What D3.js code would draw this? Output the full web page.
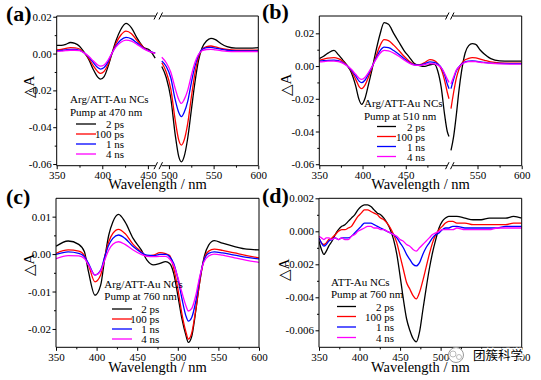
<!DOCTYPE html>
<html><head><meta charset="utf-8">
<script src="https://cdn.jsdelivr.net/npm/d3@7"></script>
<style>
body{margin:0;background:#fff}
svg{display:block}
text{font-family:"Liberation Serif","Times New Roman",serif;fill:#000}
</style>
</head><body>
<svg id="c" width="541" height="380"></svg>
<script>
// ---------------- DATA ----------------
const seriesNames = ["2 ps", "100 ps", "1 ns", "4 ns"];
const seriesColors = ["#000000", "#ff0000", "#0000ff", "#ff00ff"];

// (a) Arg/ATT-Au NCs, pump 470 nm (break 460-490)
const aWl = [350,355,360,365,370,375,380,385,390,395,398,402,406,410,415,420,426,432,438,445,452,458,
             492,497,502,507,511,514,517,521,525,529,533,537,542,547,552,558,565,575,590,600];
const a2ps = [.0045,.0045,.005,.006,.0055,.004,.0008,-.003,-.0085,-.0128,-.0139,-.0125,-.0075,-.001,.007,.0128,.0164,.014,.0085,.0035,.0018,-.0025,
              -.007,-.013,-.024,-.044,-.056,-.0588,-.056,-.046,-.031,-.016,-.004,.003,.0068,.0083,.0076,.0055,.0038,.003,.003,.0032];
const a100ps = [.002,.0022,.0028,.0032,.0031,.0025,.0005,-.0025,-.0065,-.0098,-.0108,-.0097,-.0062,-.0008,.0055,.0098,.0122,.0108,.0072,.0035,.0012,.0002,
              -.005,-.010,-.019,-.036,-.047,-.0497,-.047,-.038,-.024,-.011,-.002,.0022,.0038,.0041,.0036,.0028,.0022,.0018,.0018,.0018];
const a1ns = [.0015,.0017,.002,.0022,.0022,.0018,.0004,-.0018,-.0048,-.0076,-.0084,-.0076,-.0048,-.0005,.0042,.0072,.0088,.008,.0058,.003,.0012,.0002,
              -.004,-.007,-.013,-.025,-.032,-.0343,-.032,-.026,-.016,-.007,-.001,.0022,.0032,.0034,.003,.0024,.0018,.0015,.0015,.0015];
const a4ns = [.0012,.0013,.0016,.0018,.0018,.0016,.0004,-.0014,-.0039,-.0062,-.0068,-.0062,-.0038,-.0003,.0036,.006,.0073,.0067,.005,.0027,.001,.0001,
              -.002,-.005,-.010,-.019,-.025,-.0271,-.025,-.020,-.012,-.005,-.0005,.0015,.0022,.0023,.002,.0016,.0012,.001,.001,.001];

// (b) Arg/ATT-Au NCs, pump 510 nm (break 500-520)
const bWl = [350,355,360,367,372,377,382,387,392,396,399,403,407,411,415,420,425,430,436,442,448,454,460,466,472,478,483,487,491,495,498,500,
             520,523,526,529,532,536,540,544,548,553,558,565,575,588,600];
const b2ps = [.0045,.006,.0079,.0096,.007,.0038,.0005,-.004,-.012,-.0205,-.0234,-.0195,-.011,-.002,.008,.019,.0265,.0255,.020,.0147,.0095,.0055,.0015,.0003,-.0002,.0008,.0012,-.003,-.013,-.030,-.040,-.043,
              -.0515,-.043,-.030,-.015,-.003,.008,.0125,.0137,.0133,.0098,.0072,.0045,.0032,.003,.003];
const b100ps = [.0035,.0042,.0048,.0051,.0045,.003,.0005,-.003,-.008,-.0125,-.0138,-.0115,-.0065,-.001,.005,.0122,.0161,.0155,.0128,.0095,.006,.003,.001,.0008,.0022,.0039,.0033,.0015,-.002,-.009,-.016,-.020,
              -.026,-.016,-.0075,-.002,.0015,.0038,.0047,.0051,.005,.0042,.0035,.0026,.002,.0018,.0018];
const b1ns = [.003,.0033,.0035,.0036,.0033,.0022,.0003,-.0025,-.006,-.0092,-.0101,-.0085,-.0048,-.0005,.0042,.0092,.0116,.0112,.0095,.0072,.0046,.0022,.0008,.0006,.0015,.0025,.0022,.0012,-.001,-.0055,-.011,-.0138,
              -.0138,-.008,-.003,-.0005,.0012,.0025,.003,.0031,.003,.0026,.0022,.0018,.0016,.0015,.0015];
const b4ns = [.0025,.0027,.003,.003,.0028,.0018,.0002,-.002,-.005,-.0074,-.0081,-.0068,-.0038,-.0003,.0036,.0077,.0096,.0093,.0079,.006,.0038,.0018,.0006,.0004,.001,.0015,.0013,.0006,-.001,-.0045,-.008,-.010,
              -.011,-.0065,-.0025,-.0005,.001,.0022,.0027,.0028,.0027,.0023,.002,.0016,.0013,.0012,.0012];

// (c) Arg/ATT-Au NCs, pump 760 nm
const cWl = [350,365,378,385,390,398,405,410,415,420,427,435,445,455,462,470,478,485,490,495,500,505,510,513,517,522,527,532,538,545,555,570,585,600];
const c2ps = [.0021,.0035,.0026,.0006,-.0047,-.011,-.0083,-.0012,.0051,.0086,.0106,.0086,.0042,.0011,-.0016,-.0029,-.0025,-.002,-.0025,-.0052,-.011,-.0172,-.0217,-.0236,-.0221,-.0154,-.0074,-.0012,.0024,.0036,.0029,.002,.0013,.0011];
const c100ps = [.0002,.0011,.0008,-.0004,-.0029,-.0074,-.0056,-.0007,.0033,.0055,.0066,.0055,.0026,.0006,-.0005,-.0003,.0004,.0001,-.0004,-.0038,-.0092,-.0159,-.0208,-.0227,-.0212,-.015,-.0074,-.0016,.0008,.0013,.001,.0003,-.0004,-.001];
const c1ns = [-.0001,.0006,.0002,-.0007,-.0025,-.0056,-.0043,-.0007,.0024,.0042,.0051,.0042,.002,.0004,-.0003,-.0004,-.0001,-.0001,-.0007,-.0025,-.0065,-.0118,-.0165,-.0179,-.017,-.0128,-.0065,-.0018,.0002,.0006,.0003,-.0003,-.0009,-.0013];
const c4ns = [-.0012,-.0004,-.0005,-.0012,-.0029,-.0056,-.0045,-.0016,.0011,.0026,.0033,.0026,.0011,-.0001,-.0006,-.0007,-.0006,-.0006,-.0013,-.003,-.0062,-.0102,-.0138,-.0152,-.0146,-.0112,-.006,-.0022,-.0005,0,-.0003,-.001,-.0017,-.0022];

// (d) ATT-Au NCs, pump 760 nm
const dWl = [350,353,356,359,362,366,370,374,378,382,386,390,394,398,402,406,410,414,418,422,426,430,434,438,442,446,450,454,458,462,466,470,474,478,482,486,490,494,498,502,506,510,515,520,530,540,550,560,570,580,590,600];
const d2ps = [-.0006,-.0011,-.0014,-.0012,-.0009,-.0006,-.0002,.0001,.0003,.0004,.0006,.0008,.001,.0013,.0015,.0016,.0016,.0015,.0013,.0011,.001,.0008,.0005,.0001,-.0005,-.0014,-.0027,-.0041,-.0053,-.006,-.0065,-.0067,-.0061,-.0048,-.0035,-.0023,-.0013,-.0005,.0002,.0006,.0008,.0009,.0009,.0009,.0008,.0007,.0007,.0008,.0008,.0008,.0009,.0008];
const d100ps = [-.0004,-.0007,-.0008,-.0007,-.0005,-.0004,-.0002,0,.0001,.0001,.0002,.0003,.0006,.0009,.0011,.0013,.0013,.0012,.0011,.001,.0008,.0007,.0005,.0002,-.0002,-.0007,-.0015,-.0023,-.0031,-.0035,-.0039,-.0041,-.0037,-.003,-.0022,-.0014,-.0007,-.0002,.0001,.0003,.0005,.0006,.0006,.0005,.0005,.0004,.0004,.0004,.0004,.0004,.0005,.0005];
const d1ns = [-.0004,-.0007,-.0009,-.0008,-.0006,-.0005,-.0004,-.0005,-.0004,-.0004,-.0004,-.0003,-.0001,.0001,.0003,.0005,.0005,.0005,.0004,.0003,.0002,.0001,0,-.0001,-.0002,-.0004,-.0007,-.001,-.0014,-.0017,-.002,-.0021,-.0019,-.0014,-.001,-.0007,-.0004,-.0002,-.0001,.0001,.0002,.0002,.0003,.0003,.0002,.0002,.0002,.0002,.0002,.0003,.0003,.0003];
const d4ns = [-.0003,-.0004,-.0005,-.0004,-.0004,-.0005,-.0004,-.0005,-.0004,-.0005,-.0005,-.0003,-.0002,0,.0001,.0002,.0003,.0003,.0002,.0002,.0001,.0001,0,-.0001,-.0002,-.0003,-.0005,-.0006,-.0008,-.0009,-.0011,-.0012,-.001,-.0008,-.0006,-.0004,-.0002,-.0001,0,.0001,.0001,.0001,.0001,.0002,.0001,.0001,.0001,.0001,.0002,.0002,.0002,.0002];

// tick values and labels
const abXTicks = [350,400,450,500,550,600];
const aXMinor = [375,425,525,575];
const bXTicks = [350,400,450,550,600];
const bXMinor = [375,425,475,575];
const cdXTicks = [350,400,450,500,550,600];
const cdXMinor = [375,425,475,525,575];
const abYTicks = [0.02,0,-0.02,-0.04,-0.06];
const abYLabels = ["0.02","0.00","-0.02","-0.04","-0.06"];
const abYMinor = [0.01,-0.01,-0.03,-0.05];
const cYTicks = [0.01,0,-0.01,-0.02];
const cYLabels = ["0.01","0.00","-0.01","-0.02"];
const cYMinor = [0.005,-0.005,-0.015];
const dYTicks = [0.002,0,-0.002,-0.004,-0.006];
const dYLabels = ["0.002","0.000","-0.002","-0.004","-0.006"];
const dYMinor = [0.001,-0.001,-0.003,-0.005];

// ---------------- LAYOUT ----------------
const panels = [
  {tag:"(a)", tagPos:[6,21], wl:aWl, ser:[a2ps,a100ps,a1ns,a4ns], brk:[460,490],
   xDom:[350,460,490,600], xR:[56.7,157,160,258.3], yDom:[-0.0609,0.0204], box:{l:56.7,r:258.3,t:16,b:165.7},
   xT:abXTicks, xM:aXMinor, yT:abYTicks, yL:abYLabels, yM:abYMinor,
   title:["Arg/ATT-Au NCs","Pump at 470 nm"], leg:{tx:70, ty:[103,116], lx:[76,96], ex:124, ey:[128,138,148,158]},
   ylab:[33.5,87], xlabY:189},
  {tag:"(b)", tagPos:[262,19], wl:bWl, ser:[b2ps,b100ps,b1ns,b4ns], brk:[500,520],
   xDom:[350,500,520,600], xR:[319.3,449,451,521.7], yDom:[-0.0609,0.0306], box:{l:319.3,r:521.7,t:16,b:165.7},
   xT:bXTicks, xM:bXMinor, yT:abYTicks, yL:abYLabels, yM:abYMinor,
   title:["Arg/ATT-Au NCs","Pump at 510 nm"], leg:{tx:364, ty:[106.5,120], lx:[377,396], ex:425, ey:[130.5,140.5,150.5,160.5]},
   ylab:[291,85], xlabY:189},
  {tag:"(c)", tagPos:[6,204], wl:cWl, ser:[c2ps,c100ps,c1ns,c4ns], brk:null,
   xDom:[350,600], xR:[56,259], yDom:[-0.0249,0.0149], box:{l:56,r:259,t:198.3,b:347.3},
   xT:cdXTicks, xM:cdXMinor, yT:cYTicks, yL:cYLabels, yM:cYMinor,
   title:["Arg/ATT-Au NCs","Pump at 760 nm"], leg:{tx:104.3, ty:[288,300], lx:[112,132], ex:159.3, ey:[313,323,333,343]},
   ylab:[33.5,265], xlabY:372},
  {tag:"(d)", tagPos:[262,203], wl:dWl, ser:[d2ps,d100ps,d1ns,d4ns], brk:null,
   xDom:[350,600], xR:[319,521.7], yDom:[-0.00703,0.002], box:{l:319,r:521.7,t:198.3,b:347.3},
   xT:cdXTicks, xM:cdXMinor, yT:dYTicks, yL:dYLabels, yM:dYMinor,
   title:["ATT-Au NCs","Pump at 760 nm"], leg:{tx:331, ty:[285.5,298], lx:[337,356], ex:394, ey:[310.5,320.5,331,341.5]},
   ylab:[288.5,270], xlabY:372}
];

const svg = d3.select("#c");
const FONT = '"Liberation Serif","Times New Roman",serif';

panels.forEach((p, pi) => {
  const x = d3.scaleLinear().domain(p.xDom).range(p.xR);
  const y = d3.scaleLinear().domain(p.yDom).range([p.box.b, p.box.t]);
  const g = svg.append("g");
  const B = p.box;

  const clipId = "clip" + pi;
  svg.append("clipPath").attr("id", clipId).append("rect")
    .attr("x", B.l).attr("y", B.t).attr("width", B.r - B.l).attr("height", B.b - B.t);

  const line = d3.line().x(d => x(d[0])).y(d => y(d[1])).curve(d3.curveMonotoneX);
  const segFilters = p.brk ? [w => w <= p.brk[0], w => w >= p.brk[1]] : [() => true];
  const cg = g.append("g").attr("clip-path", `url(#${clipId})`);
  p.ser.forEach((vals, si) => {
    segFilters.forEach(f => {
      const pts = p.wl.map((w, i) => [w, vals[i]]).filter(d => f(d[0]));
      cg.append("path").attr("d", line(pts)).attr("fill", "none")
        .attr("stroke", seriesColors[si]).attr("stroke-width", 1.3);
    });
  });

  // frame
  const fr = g.append("g").attr("stroke", "#000").attr("stroke-width", 1).attr("fill", "none");
  fr.append("line").attr("x1", B.l).attr("x2", B.l).attr("y1", B.t).attr("y2", B.b);
  fr.append("line").attr("x1", B.r).attr("x2", B.r).attr("y1", B.t).attr("y2", B.b);
  [B.t, B.b].forEach(yy => {
    if (p.brk) {
      const xb = (x(p.brk[0]) + x(p.brk[1])) / 2;
      fr.append("line").attr("x1", B.l).attr("x2", xb - 3).attr("y1", yy).attr("y2", yy);
      fr.append("line").attr("x1", xb + 3).attr("x2", B.r).attr("y1", yy).attr("y2", yy);
      fr.append("line").attr("x1", xb - 4.5).attr("x2", xb - 1).attr("y1", yy + 3.5).attr("y2", yy - 3.5);
      fr.append("line").attr("x1", xb + 0.5).attr("x2", xb + 4).attr("y1", yy + 3.5).attr("y2", yy - 3.5);
    } else {
      fr.append("line").attr("x1", B.l).attr("x2", B.r).attr("y1", yy).attr("y2", yy);
    }
  });

  // axes
  const style = sel => {
    sel.select(".domain").remove();
    sel.attr("font-family", FONT).attr("font-size", 11);
    sel.selectAll("text").attr("fill", "#000");
    sel.selectAll("line").attr("stroke", "#000");
  };
  g.append("g").attr("transform", `translate(0,${B.b})`)
    .call(d3.axisBottom(x).tickValues(p.xT).tickSize(3.5).tickPadding(2).tickFormat(d => String(d))).call(style);
  g.append("g").attr("transform", `translate(0,${B.b})`)
    .call(d3.axisBottom(x).tickValues(p.xM).tickSize(2).tickFormat("")).call(style);
  g.append("g").attr("transform", `translate(${B.l},0)`)
    .call(d3.axisLeft(y).tickValues(p.yT).tickSize(3.5).tickPadding(1.5).tickFormat((d, i) => p.yL[i])).call(style);
  g.append("g").attr("transform", `translate(${B.l},0)`)
    .call(d3.axisLeft(y).tickValues(p.yM).tickSize(2).tickFormat("")).call(style);

  // axis titles
  g.append("text").attr("x", (B.l + B.r) / 2).attr("y", p.xlabY).attr("text-anchor", "middle")
    .attr("font-size", 14.5).text("Wavelength / nm");
  g.append("text").attr("transform", `translate(${p.ylab[0]},${p.ylab[1]}) rotate(-90)`)
    .attr("text-anchor", "middle").attr("font-size", 15).text("\u25B3A");

  // panel tag
  g.append("text").attr("x", p.tagPos[0]).attr("y", p.tagPos[1]).attr("font-size", 22)
    .attr("font-weight", "bold").text(p.tag);

  // legend
  const L = p.leg;
  p.title.forEach((t, i) => {
    g.append("text").attr("x", L.tx).attr("y", L.ty[i]).attr("font-size", 11).text(t);
  });
  seriesNames.forEach((n, i) => {
    g.append("line").attr("x1", L.lx[0]).attr("x2", L.lx[1]).attr("y1", L.ey[i] - 4).attr("y2", L.ey[i] - 4)
      .attr("stroke", seriesColors[i]).attr("stroke-width", 1.3);
    g.append("text").attr("x", L.ex).attr("y", L.ey[i]).attr("text-anchor", "end").attr("font-size", 11).text(n);
  });
});

// watermark
const wm = svg.append("g");
wm.append("circle").attr("cx", 456).attr("cy", 355).attr("r", 7.5).attr("fill", "#fff")
  .attr("stroke", "#999").attr("stroke-width", 1);
wm.append("circle").attr("cx", 453).attr("cy", 354).attr("r", 3).attr("fill", "none").attr("stroke", "#aaa").attr("stroke-width", 0.8);
wm.append("circle").attr("cx", 459).attr("cy", 357).attr("r", 2.5).attr("fill", "none").attr("stroke", "#aaa").attr("stroke-width", 0.8);
wm.append("text").attr("x", 473).attr("y", 359.5).attr("font-size", 12.5)
  .style("font-family", '"Noto Sans CJK SC",sans-serif')
  .attr("fill", "#8a8a8a").attr("stroke", "#fff").attr("stroke-width", 2.5)
  .attr("paint-order", "stroke").text("团簇科学");
</script>
</body></html>
